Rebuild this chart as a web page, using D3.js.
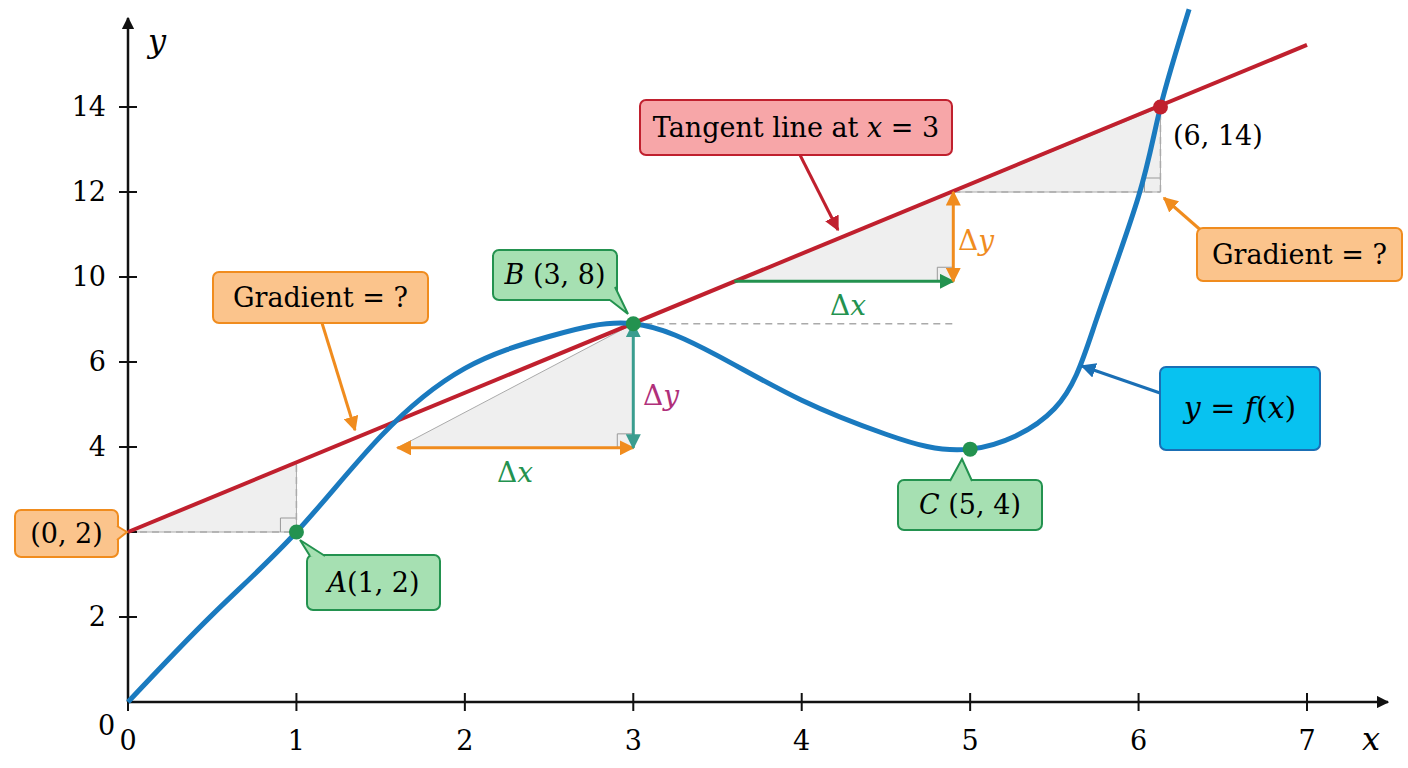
<!DOCTYPE html>
<html><head><meta charset="utf-8">
<script src="https://cdn.jsdelivr.net/npm/d3@7"></script>
<style>body{margin:0;background:#fff}text{font-family:"DejaVu Serif","Liberation Serif",serif}</style>
</head><body><div id="chart"></div>
<script>
// curve y = f(x) (y in axis units)
const curveX = [0,0.5,1,1.5,2,2.5,3,3.5,4,4.5,5,5.5,5.75,6,6.13,6.3];
const curveY = [0,2.05,4,6.25,7.85,8.6,8.9,8.15,7.1,6.3,5.95,6.9,9.0,11.9,14,16.3];
// tangent at B
const tanX = [0,7];
const tanY = [4,15.46];
const xTicks = [0,1,2,3,4,5,6,7];
const yTicks = [2,4,6,8,10,12,14];
const yTickLabels = ["2","","4","6","10","12","14"];
// points A, B, C, (6,14)
const pts = [{x:1,y:4,c:"#23924f"},{x:3,y:8.9,c:"#23924f"},{x:5,y:5.95,c:"#23924f"},{x:6.13,y:14,c:"#c0202e"}];
// slope triangles: [x0, x1, yLow, yHigh]
const tris = [[0,1,4,5.64],[1.6,3,5.98,8.9],[3.6,4.9,9.9,12],[4.9,6.13,12,14]];

const W=1408,H=768;
const x=d3.scaleLinear().domain([0,7]).range([128,1307]);
const y=d3.scaleLinear().domain([0,14]).range([702,107]);
const svg=d3.select("#chart").append("svg").attr("width",W).attr("height",H);
const defs=svg.append("defs");
function marker(id,col){
  defs.append("marker").attr("id",id).attr("viewBox","0 0 10 10").attr("refX",9).attr("refY",5)
    .attr("markerWidth",5).attr("markerHeight",5).attr("orient","auto-start-reverse")
    .append("path").attr("d","M0,0L10,5L0,10z").attr("fill",col);
}
marker("mk","#111");marker("mo","#f08c1e");marker("mg","#23924f");marker("mt","#3a9d8f");
marker("mr","#c0202e");marker("mb","#1a6fb5");

// triangles
tris.forEach(t=>{
  svg.append("path").attr("d",`M${x(t[0])},${y(t[2])}L${x(t[1])},${y(t[3])}L${x(t[1])},${y(t[2])}Z`)
    .attr("fill","#ececec").attr("fill-opacity",0.85).attr("stroke","#aaa").attr("stroke-width",1);
  svg.append("path").attr("d",`M${x(t[1])-16},${y(t[2])}v-14h16`).attr("fill","none").attr("stroke","#999");
});
const dash=(x0,y0,x1,y1)=>svg.append("line").attr("x1",x(x0)).attr("y1",y(y0)).attr("x2",x(x1)).attr("y2",y(y1))
  .attr("stroke","#aaa").attr("stroke-width",1.5).attr("stroke-dasharray","7,5");
dash(0,4,1,4);dash(1,4,1,5.64);dash(3,8.9,4.9,8.9);dash(4.9,12,6.13,12);dash(6.13,12,6.13,14);

// axes
svg.append("line").attr("x1",x(0)).attr("y1",y(0)).attr("x2",1388).attr("y2",y(0)).attr("stroke","#111").attr("stroke-width",2.5).attr("marker-end","url(#mk)");
svg.append("line").attr("x1",x(0)).attr("y1",y(0)).attr("x2",x(0)).attr("y2",18).attr("stroke","#111").attr("stroke-width",2.5).attr("marker-end","url(#mk)");
xTicks.forEach(v=>{
  svg.append("line").attr("x1",x(v)).attr("x2",x(v)).attr("y1",y(0)-9).attr("y2",y(0)+9).attr("stroke","#111").attr("stroke-width",2);
  svg.append("text").attr("x",x(v)).attr("y",y(0)+48).attr("text-anchor","middle").attr("font-size",27).text(v);
});
yTicks.forEach((v,i)=>{
  svg.append("line").attr("x1",x(0)-9).attr("x2",x(0)+9).attr("y1",y(v)).attr("y2",y(v)).attr("stroke","#111").attr("stroke-width",2);
  svg.append("text").attr("x",x(0)-22).attr("y",y(v)+9).attr("text-anchor","end").attr("font-size",27).text(yTickLabels[i]);
});
svg.append("text").attr("x",98).attr("y",735).attr("font-size",27).text("0");
svg.append("text").attr("x",1362).attr("y",750).attr("font-size",32).attr("font-style","italic").text("x");
svg.append("text").attr("x",148).attr("y",52).attr("font-size",32).attr("font-style","italic").text("y");

// tangent + curve
svg.append("line").attr("x1",x(tanX[0])).attr("y1",y(tanY[0])).attr("x2",x(tanX[1])).attr("y2",y(tanY[1]))
  .attr("stroke","#c0202e").attr("stroke-width",4);
const curve=curveX.map((v,i)=>[v,curveY[i]]);
svg.append("path").datum(curve).attr("d",d3.line().x(d=>x(d[0])).y(d=>y(d[1])).curve(d3.curveNatural))
  .attr("fill","none").attr("stroke","#1a7abf").attr("stroke-width",5);

// delta arrows
const arr=(x0,y0,x1,y1,col,m,both)=>{const l=svg.append("line").attr("x1",x(x0)).attr("y1",y(y0)).attr("x2",x(x1)).attr("y2",y(y1))
  .attr("stroke",col).attr("stroke-width",3).attr("marker-end",`url(#${m})`); if(both) l.attr("marker-start",`url(#${m})`);};
arr(1.6,5.98,3,5.98,"#f08c1e","mo",true);
arr(3,5.98,3,8.9,"#3a9d8f","mt",true);
arr(3.6,9.9,4.9,9.9,"#23924f","mg",false);
arr(4.9,9.9,4.9,12,"#f08c1e","mo",true);
const lab=(px,py,txt,col)=>svg.append("text").attr("x",px).attr("y",py).attr("font-size",28).attr("fill",col)
  .html(`Δ<tspan font-style="italic">${txt}</tspan>`);
lab(497,482,"x","#23924f");lab(643,405,"y","#b0307a");lab(830,315,"x","#23924f");lab(958,250,"y","#f08c1e");

pts.forEach(p=>svg.append("circle").attr("cx",x(p.x)).attr("cy",y(p.y)).attr("r",7.5).attr("fill",p.c));

// annotation boxes
function box(x0,y0,w,h,fill,stroke,html,fs){
  svg.append("rect").attr("x",x0).attr("y",y0).attr("width",w).attr("height",h).attr("rx",6)
    .attr("fill",fill).attr("stroke",stroke).attr("stroke-width",2);
  svg.append("text").attr("x",x0+w/2).attr("y",y0+h/2+9).attr("text-anchor","middle").attr("font-size",fs||27).html(html);
}
const pointer=(pts,fill,stroke)=>svg.append("path").attr("d","M"+pts.join("L")).attr("fill",fill).attr("stroke",stroke).attr("stroke-width",2);
const line=(x0,y0,x1,y1,col,m)=>svg.append("line").attr("x1",x0).attr("y1",y0).attr("x2",x1).attr("y2",y1).attr("stroke",col).attr("stroke-width",3).attr("marker-end",`url(#${m})`);

line(800,155,838,230,"#c0202e","mr");
box(640,100,312,55,"#f7a6a8","#c0202e",'Tangent line at <tspan font-style="italic">x</tspan> = 3');
line(322,323,355,430,"#f08c1e","mo");
box(213,272,215,51,"#fbc48c","#f08c1e","Gradient = ?");
line(1212,240,1164,198,"#f08c1e","mo");
box(1197,228,205,53,"#fbc48c","#f08c1e","Gradient = ?");
line(1160,393,1082,366,"#1a6fb5","mb");
box(1160,367,160,83,"#08c2f0","#1a6fb5",'<tspan font-style="italic">y</tspan> = <tspan font-style="italic">f</tspan>(<tspan font-style="italic">x</tspan>)',30);

box(15,510,103,47,"#fbc48c","#f08c1e","(0, 2)");
pointer([[117,526],[127,532],[117,540]],"#fbc48c","#f08c1e");
box(307,555,133,55,"#a6e0b2","#23924f",'<tspan font-style="italic">A</tspan>(1, 2)');
pointer([[310,556],[300,540],[325,556]],"#a6e0b2","#23924f");
box(493,250,124,50,"#a6e0b2","#23924f",'<tspan font-style="italic">B</tspan> (3, 8)');
pointer([[610,300],[628,314],[615,287]],"#a6e0b2","#23924f");
box(898,480,144,50,"#a6e0b2","#23924f",'<tspan font-style="italic">C</tspan> (5, 4)');
pointer([[950,481],[962,459],[972,481]],"#a6e0b2","#23924f");
svg.append("text").attr("x",1173).attr("y",145).attr("font-size",27).text("(6, 14)");
</script></body></html>
